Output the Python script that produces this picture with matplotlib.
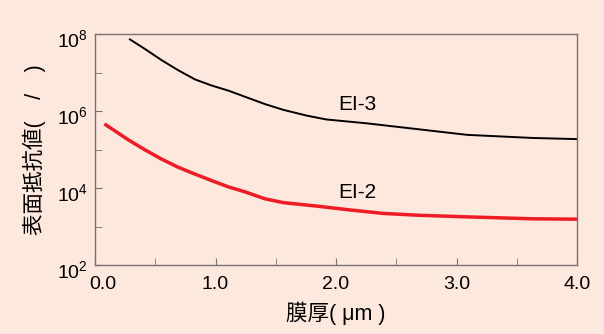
import matplotlib.pyplot as plt
import matplotlib.transforms as mtransforms
from matplotlib.ticker import FixedLocator, NullFormatter

# 膜厚 (μm) と 表面抵抗値 (log10 で読み取り)
ei3_x = [0.29, 0.415, 0.553, 0.69, 0.83, 0.97, 1.106, 1.245, 1.41, 1.563, 1.757,
         1.92, 2.255, 2.70, 3.09, 3.63, 4.00]
ei3_log = [7.86, 7.61, 7.32, 7.06, 6.82, 6.66, 6.53, 6.37, 6.18, 6.03, 5.88,
           5.78, 5.68, 5.52, 5.38, 5.30, 5.27]
ei2_x = [0.09, 0.277, 0.415, 0.553, 0.69, 0.83, 0.97, 1.106, 1.245, 1.41, 1.563,
         1.84, 2.116, 2.39, 2.70, 3.09, 3.63, 4.00]
ei2_log = [5.64, 5.25, 4.99, 4.75, 4.54, 4.36, 4.19, 4.03, 3.90, 3.72, 3.62,
           3.53, 3.43, 3.34, 3.29, 3.25, 3.20, 3.19]

ei3_y = [10 ** v for v in ei3_log]
ei2_y = [10 ** v for v in ei2_log]

bg = "#fde8de"
spine_c = "#7a7070"

plt.rcParams["font.family"] = ["Liberation Sans", "Noto Sans CJK JP", "DejaVu Sans"]
plt.rcParams["mathtext.fontset"] = "custom"
plt.rcParams["mathtext.rm"] = "Liberation Sans"
plt.rcParams["mathtext.it"] = "Liberation Sans"

fig = plt.figure(figsize=(6.04, 3.34), dpi=100, facecolor=bg)
ax = fig.add_axes([95 / 604, 1 - 265 / 334, (577 - 95) / 604, (265 - 34) / 334])
ax.set_facecolor(bg)

ax.plot(ei3_x, ei3_y, color="black", lw=1.4, solid_joinstyle="round")
ax.plot(ei2_x, ei2_y, color="#ee1c25", lw=2.5, solid_joinstyle="round")

ax.text(2.18, 10 ** 6.16, "EI-3", fontsize=15, ha="center", va="center")
ax.text(2.18, 10 ** 3.88, "EI-2", fontsize=15, ha="center", va="center")

ax.set_yscale("log")
ax.set_xlim(0, 4)
ax.set_ylim(1e2, 1e8)

ax.xaxis.set_major_locator(FixedLocator([0, 1, 2, 3, 4]))
ax.xaxis.set_minor_locator(FixedLocator([0.5, 1.5, 2.5, 3.5]))
ax.set_xticklabels(["0.0", "1.0", "2.0", "3.0", "4.0"])

ax.yaxis.set_major_locator(FixedLocator([1e2, 1e4, 1e6, 1e8]))
ax.yaxis.set_minor_locator(FixedLocator([1e3, 1e5, 1e7]))
ax.yaxis.set_minor_formatter(NullFormatter())
ax.set_yticklabels(["$\\mathregular{10^2}$", "$\\mathregular{10^4}$",
                    "$\\mathregular{10^6}$", "$\\mathregular{10^8}$"])

ax.tick_params(which="both", direction="in", length=5, color=spine_c, labelsize=14,
               top=False, right=False)
ax.tick_params(axis="x", pad=8)
ax.tick_params(axis="y", pad=5)

# 0.0 のラベルは少し右へ
lab0 = ax.get_xticklabels()[0]
lab0.set_transform(lab0.get_transform() + mtransforms.ScaledTranslation(8 / 100, 0, fig.dpi_scale_trans))
for lab in ax.get_yticklabels():
    lab.set_transform(lab.get_transform() + mtransforms.ScaledTranslation(0, -4 / 100, fig.dpi_scale_trans))

for s in ax.spines.values():
    s.set_color(spine_c)
    s.set_linewidth(1.0)

ax.set_xlabel("膜厚( μm )", fontsize=15.5, labelpad=6)
ax.set_ylabel("表面抵抗値(　/　)", fontsize=15.5, labelpad=8)

fig.savefig("out.png", dpi=100, facecolor=bg)
